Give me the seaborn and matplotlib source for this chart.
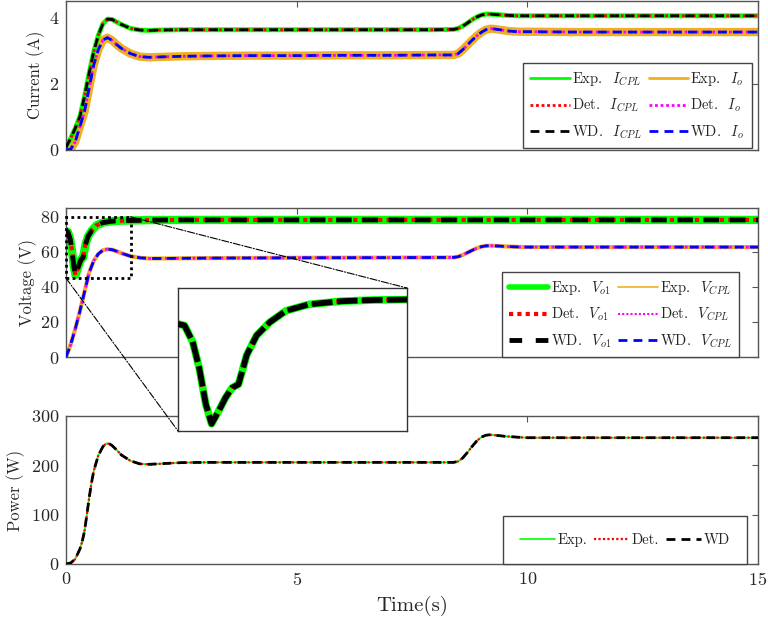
import matplotlib
matplotlib.use("Agg")
import matplotlib.pyplot as plt
import seaborn as sns
from matplotlib.lines import Line2D
from matplotlib.patches import Rectangle, ConnectionPatch

# ---------------- measured traces ----------------
# currents (A)
t_cur = [0, 0.1, 0.2, 0.3, 0.4, 0.5, 0.6, 0.7, 0.8, 0.9, 1.0, 1.1, 1.2, 1.4, 1.6,
         1.8, 2.0, 2.5, 3.0, 4.0, 5.0, 6.0, 7.0, 8.0, 8.4, 8.5, 8.6, 8.7, 8.8, 8.9,
         9.0, 9.1, 9.2, 9.3, 9.4, 9.6, 9.8, 10.0, 11.0, 12.0, 13.0, 14.0, 15.0]
i_cpl = [0.08, 0.35, 0.65, 1.00, 1.60, 2.30, 2.95, 3.45, 3.80, 3.94, 3.93, 3.85, 3.78,
         3.66, 3.61, 3.60, 3.61, 3.62, 3.62, 3.62, 3.62, 3.62, 3.62, 3.62, 3.63, 3.66,
         3.73, 3.82, 3.92, 4.00, 4.06, 4.09, 4.09, 4.08, 4.07, 4.05, 4.04, 4.04, 4.04,
         4.04, 4.04, 4.04, 4.04]
i_o = [0.0, 0.02, 0.25, 0.70, 1.15, 1.85, 2.55, 3.02, 3.31, 3.38, 3.30, 3.17, 3.06,
       2.90, 2.81, 2.79, 2.80, 2.82, 2.83, 2.84, 2.84, 2.85, 2.85, 2.86, 2.86, 2.90,
       3.02, 3.16, 3.30, 3.43, 3.54, 3.62, 3.65, 3.64, 3.62, 3.58, 3.56, 3.56, 3.55,
       3.55, 3.55, 3.55, 3.55]

# voltages (V)
t_vo1 = [0, 0.04, 0.09, 0.13, 0.17, 0.205, 0.25, 0.29, 0.33, 0.37, 0.42, 0.48, 0.56,
         0.66, 0.8, 1.0, 1.2, 1.4, 1.8, 2.5, 4.0, 6.0, 8.0, 10.0, 12.0, 15.0]
v_o1 = [71.8, 71.4, 67.3, 60.7, 51.7, 46.8, 50.1, 53.3, 55.8, 56.7, 64.0, 68.9, 72.2,
        75.1, 76.7, 77.5, 77.8, 77.9, 78.1, 78.2, 78.2, 78.2, 78.2, 78.2, 78.2, 78.2]
t_vcpl = [0, 0.1, 0.2, 0.3, 0.4, 0.5, 0.6, 0.7, 0.8, 0.9, 1.0, 1.1, 1.2, 1.4, 1.6, 1.8,
          2.0, 3.0, 5.0, 7.0, 8.4, 8.5, 8.6, 8.7, 8.8, 8.9, 9.0, 9.1, 9.2, 9.3, 9.5,
          9.8, 10.0, 12.0, 15.0]
v_cpl = [0, 7, 16, 26, 37, 48, 54.8, 58.8, 60.9, 61.5, 61.2, 60.3, 59.2, 57.5, 56.6,
         56.2, 56.2, 56.4, 56.6, 56.7, 56.8, 57.2, 58.2, 59.5, 60.8, 62.0, 62.9, 63.4,
         63.5, 63.4, 63.1, 62.8, 62.7, 62.7, 62.7]

# power (W)
t_pow = [0, 0.1, 0.2, 0.3, 0.35, 0.4, 0.45, 0.5, 0.55, 0.6, 0.7, 0.8, 0.88, 0.95, 1.0,
         1.1, 1.2, 1.4, 1.6, 1.8, 2.0, 2.5, 3.0, 5.0, 8.4, 8.5, 8.6, 8.7, 8.8, 8.9,
         9.0, 9.1, 9.2, 9.3, 9.5, 9.8, 10.0, 12.0, 15.0]
p_cpl = [0, 2, 10, 30, 45, 66, 98, 133, 163, 188, 220, 238, 244.7, 243, 240, 231, 221,
         209, 203, 202, 203, 205.5, 206, 206, 206, 208, 215, 226, 238, 249, 257, 261,
         262, 261, 259, 257, 256, 256, 256]

x_ticks = [0, 5, 10, 15]
cur_ticks = [0, 2, 4]
volt_ticks = [0, 20, 40, 60, 80]
pow_ticks = [0, 100, 200, 300]
zoom_box = (0.0, 1.4, 45.0, 80.0)   # t0, t1, v0, v1

# ---------------- style ----------------
sns.set_style("white")
plt.rcParams["font.family"] = ["cmr10", "DejaVu Serif"]
plt.rcParams["mathtext.fontset"] = "cm"
plt.rcParams["axes.formatter.use_mathtext"] = True

GREEN, ORANGE, RED = "#00ff00", "#edb120", "#ff0000"
MAGENTA, BLACK, BLUE = "#ff00ff", "#000000", "#0000ff"
DOT = (0, (1, 1))
DASH = (0, (3.2, 2.2))
DASH_WIDE = (0, (2.6, 2.8))
AXC = "#555555"
TXT = "#262626"


def tag(src, sym):
    # source tag followed by a wide gap and the math symbol
    return src + r"$\ \enspace " + sym + "$"


def trace(ax, t, y, color, lw, ls="-", z=2):
    sns.lineplot(x=t, y=y, ax=ax, color=color, linewidth=lw, linestyle=ls,
                 estimator=None, sort=False, legend=False, zorder=z)


def frame(ax, yticks, ylim, ylabel, label_x, show_x):
    ax.set_xlim(0, 15)
    ax.set_ylim(*ylim)
    ax.set_xticks(x_ticks)
    ax.set_yticks(yticks)
    ax.tick_params(direction="in", length=4, width=0.8, top=True, right=True,
                   labelsize=13, colors=AXC, labelcolor=TXT, pad=5)
    if not show_x:
        ax.tick_params(labelbottom=False)
    for s in ax.spines.values():
        s.set_color(AXC)
        s.set_linewidth(1.0)
    ax.set_ylabel(ylabel, fontsize=12, color=TXT)
    ax.yaxis.set_label_coords(label_x, 0.5)
    ax.set_xlabel("")


def proxy(color, lw, ls="-"):
    return Line2D([], [], color=color, linewidth=lw, linestyle=ls)


def legend_kw(**over):
    kw = dict(fontsize=10.5, frameon=True, fancybox=False, framealpha=1.0,
              edgecolor="#444444", handlelength=2.7, handletextpad=0.15,
              columnspacing=0.5, labelspacing=0.61, borderaxespad=0.0,
              borderpad=0.5, loc="lower right")
    kw.update(over)
    return kw


fig = plt.figure(figsize=(7.68, 6.24), dpi=100)
W, H = 768.0, 624.0
L, R = 66.0, 758.0


def rect(top, bottom, left=L, right=R):
    return [left / W, 1 - bottom / H, (right - left) / W, (bottom - top) / H]


ax_i = fig.add_axes(rect(0.5, 150))
ax_v = fig.add_axes(rect(208, 357))
ax_p = fig.add_axes(rect(416, 564))

# ---- currents ----
trace(ax_i, t_cur, i_o, ORANGE, 6.0, z=2)
trace(ax_i, t_cur, i_cpl, GREEN, 3.5, z=2)
trace(ax_i, t_cur, i_cpl, RED, 2.0, DOT, z=3)
trace(ax_i, t_cur, i_o, MAGENTA, 2.0, DOT, z=3)
trace(ax_i, t_cur, i_cpl, BLACK, 2.0, DASH, z=4)
trace(ax_i, t_cur, i_o, BLUE, 2.0, DASH, z=4)
frame(ax_i, cur_ticks, (0, 4.5), "Current (A)", -0.030, False)
ax_i.legend(handles=[proxy(GREEN, 2.0), proxy(RED, 2.0, DOT), proxy(BLACK, 2.0, DASH),
                     proxy(ORANGE, 2.0), proxy(MAGENTA, 2.0, DOT), proxy(BLUE, 2.0, DASH)],
            labels=[tag("Exp.", "I_{CPL}"), tag("Det.", "I_{CPL}"), tag("WD.", "I_{CPL}"),
                    tag("Exp.", "I_o"), tag("Det.", "I_o"), tag("WD.", "I_o")],
            ncol=2, **legend_kw(bbox_to_anchor=(0.991, 0.013)))

# ---- voltages ----
trace(ax_v, t_vo1, v_o1, GREEN, 6.0, z=2)
trace(ax_v, t_vcpl, v_cpl, ORANGE, 3.0, z=2)
trace(ax_v, t_vo1, v_o1, RED, 3.0, DOT, z=3)
trace(ax_v, t_vcpl, v_cpl, MAGENTA, 2.0, DOT, z=3)
trace(ax_v, t_vo1, v_o1, BLACK, 3.5, DASH, z=4)
trace(ax_v, t_vcpl, v_cpl, BLUE, 2.0, DASH, z=4)
frame(ax_v, volt_ticks, (0, 85), "Voltage (V)", -0.042, False)
ax_v.legend(handles=[proxy(GREEN, 4.0), proxy(RED, 3.0, DOT), proxy(BLACK, 3.5, DASH_WIDE),
                     proxy(ORANGE, 1.2), proxy(MAGENTA, 1.5, DOT), proxy(BLUE, 2.0, DASH)],
            labels=[tag("Exp.", "V_{o1}"), tag("Det.", "V_{o1}"), tag("WD.", "V_{o1}"),
                    tag("Exp.", "V_{CPL}"), tag("Det.", "V_{CPL}"), tag("WD.", "V_{CPL}")],
            ncol=2, **legend_kw(bbox_to_anchor=(0.9725, 0.0)))

t0, t1, v0, v1 = zoom_box
ax_v.add_patch(Rectangle((t0, v0), t1 - t0, v1 - v0, fill=False, edgecolor=BLACK,
                         linewidth=2.0, linestyle=(0, (1, 1.2)), zorder=6, clip_on=False))

# ---- power ----
trace(ax_p, t_pow, p_cpl, GREEN, 1.2, z=2)
trace(ax_p, t_pow, p_cpl, RED, 1.6, DOT, z=3)
trace(ax_p, t_pow, p_cpl, BLACK, 2.0, DASH, z=4)
frame(ax_p, pow_ticks, (0, 300), "Power (W)", -0.059, True)
ax_p.set_xlabel("Time(s)", fontsize=15, color=TXT, labelpad=6)
ax_p.legend(handles=[proxy(GREEN, 1.2), proxy(RED, 1.6, DOT), proxy(BLACK, 2.0, DASH)],
            labels=["Exp.", "Det.", "WD"], ncol=3,
            **legend_kw(bbox_to_anchor=(0.984, 0.0), handlelength=2.4,
                        columnspacing=0.45, borderpad=1.15, handletextpad=0.2))

# ---- zoomed view of the V_o1 dip ----
ax_in = fig.add_axes(rect(288, 431, 178, 407))
ax_in.set_zorder(5)
ax_in.set_facecolor("white")
trace(ax_in, t_vo1, v_o1, GREEN, 5.5, z=2)
trace(ax_in, t_vo1, v_o1, RED, 3.0, DOT, z=3)
trace(ax_in, t_vo1, v_o1, BLACK, 4.2, (0, (3.5, 0.8)), z=4)
ax_in.set_xlim(t0, t1)
ax_in.set_ylim(v0, v1 + 0.8)
ax_in.set_xticks([])
ax_in.set_yticks([])
ax_in.set_xlabel("")
ax_in.set_ylabel("")
for s in ax_in.spines.values():
    s.set_color("#333333")
    s.set_linewidth(1.0)

for xa, xb in [((t0, v0), (0, 0)), ((t1, v1), (1, 1))]:
    con = ConnectionPatch(xyA=xa, coordsA=ax_v.transData, xyB=xb, coordsB=ax_in.transAxes,
                          color=BLACK, linewidth=0.8, linestyle="-.")
    con.set_zorder(6)
    fig.add_artist(con)

fig.savefig("out.png", dpi=100)
